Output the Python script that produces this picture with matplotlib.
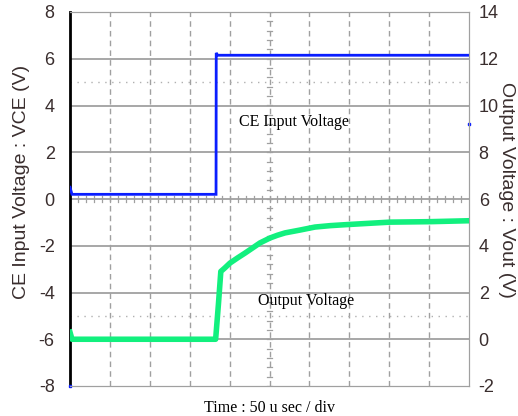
import matplotlib
matplotlib.use("Agg")
import matplotlib.pyplot as plt
import numpy as np

# time in divisions (50 us / div)
blue_t = [0.0, 0.05, 3.66, 3.665, 3.70, 10.0]
blue_v = [0.5, 0.2, 0.2, 6.25, 6.15, 6.15]          # CE input voltage (left axis)

green_t = [0.0, 0.05, 3.65, 3.72, 3.78, 3.88, 4.01, 4.2, 4.39, 4.58, 4.76, 5.01,
           5.2, 5.39, 5.76, 6.14, 6.52, 6.89, 7.5, 8.02, 9.02, 10.0]
green_v = [0.3, 0.0, 0.0, 1.5, 2.9, 3.05, 3.26, 3.48, 3.69, 3.91, 4.12, 4.33,
           4.45, 4.55, 4.67, 4.8, 4.86, 4.9, 4.96, 5.01, 5.03, 5.07]  # output voltage (right axis)

left_ticks = [8, 6, 4, 2, 0, -2, -4, -6, -8]
right_ticks = [14, 12, 10, 8, 6, 4, 2, 0, -2]

fig = plt.figure(figsize=(5.18, 4.16), dpi=100)
ax = fig.add_axes([70/518, 30/416, 399/518, 374/416])
ax.set_xlim(0, 10)
ax.set_ylim(-8, 8)
ax2 = ax.twinx()
ax2.set_ylim(-2, 14)

grid_c = '#a0a0a0'
for y in [-6, -4, -2, 0, 2, 4, 6]:
    ax.axhline(y, color=grid_c, lw=1.3, zorder=1)
for x in range(1, 10):
    ax.axvline(x, color=grid_c, lw=1.0, ls=(0, (4, 3)), zorder=1)
for y in [5, -5]:
    ax.axhline(y, color='#b0b0b0', lw=1.0, ls=(0, (1, 4)), zorder=1)
# center-axis minor ticks
for x in np.arange(0.2, 10, 0.2):
    ax.plot([x, x], [-0.12, 0.12], color=grid_c, lw=0.9, zorder=1)
for y in np.arange(-8, 8.01, 0.4):
    ax.plot([4.93, 5.07], [y, y], color=grid_c, lw=0.9, zorder=1)

ax.plot(blue_t, blue_v, color='#0a1eff', lw=2.0, zorder=3, solid_joinstyle='miter')
ax.plot([10.0], [3.2], 's', color='#0a1eff', ms=2, zorder=3, clip_on=False)
ax.plot([0.0], [-8.0], 's', color='#0a1eff', ms=2, zorder=3, clip_on=False)
ax2.plot(green_t, green_v, color='#12f07e', lw=4.0, zorder=3)

for sp in ['top', 'right', 'bottom']:
    ax.spines[sp].set_color(grid_c)
    ax2.spines[sp].set_color(grid_c)
ax.spines['left'].set_color('black')
ax.spines['left'].set_linewidth(2)
ax2.spines['left'].set_visible(False)

txt_c = '#3a2e2e'
ax.set_xticks([])
ax.set_yticks(left_ticks)
ax.set_yticklabels([str(v) for v in left_ticks], fontsize=13, color=txt_c,
                   family='Liberation Sans')
ax.tick_params(axis='y', length=0, pad=11)
ax2.set_yticks(right_ticks)
ax2.set_yticklabels([str(v) for v in right_ticks], fontsize=13, color=txt_c,
                    family='Liberation Sans')
ax2.tick_params(axis='y', length=0, pad=7)

fig.text(22/518, 1 - 182/416, 'CE Input Voltage : VCE (V)', rotation=90,
         ha='center', va='center', fontsize=14, color=txt_c, family='Liberation Sans')
fig.text(506/518, 1 - 190/416, 'Output Voltage : Vout (V)', rotation=-90,
         ha='center', va='center', fontsize=14, color=txt_c, family='Liberation Sans')
fig.text(270/518, 1 - 408/416, 'Time : 50 u sec / div', ha='center', va='center',
         fontsize=11.5, color='black', family='Liberation Serif')
ax.text(5.61, 3.29, 'CE Input Voltage', ha='center', va='center', fontsize=11.5,
        color='black', family='Liberation Serif', zorder=4)
ax.text(5.91, -4.35, 'Output Voltage', ha='center', va='center', fontsize=11.5,
        color='black', family='Liberation Serif', zorder=4)

fig.savefig('out.png', dpi=100)
